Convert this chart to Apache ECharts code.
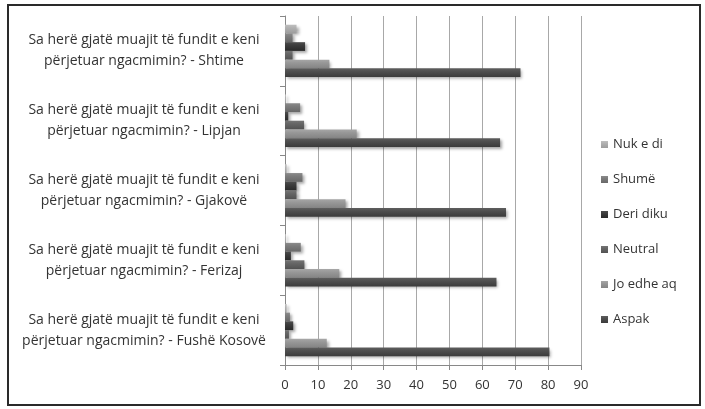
<!DOCTYPE html>
<html style="height: 100%">
<head>
    <meta charset="utf-8">
    <script src="https://cdn.jsdelivr.net/npm/echarts@6/dist/echarts.min.js"></script>
    <title>Ngacmimi</title>
</head>
<body style="height: 100%; margin: 0; background: #fff">
<div id="container" style="width: 705px; height: 409px"></div>
<script type="text/javascript">

    // categories, bottom to top
    let places = ['Fushë Kosovë', 'Ferizaj', 'Gjakovë', 'Lipjan', 'Shtime'];
    let question = 'Sa herë gjatë muajit të fundit e keni\npërjetuar ngacmimin? - ';

    let aspak = [80.4, 64.3, 67.2, 65.4, 71.6];
    let joEdheAq = [12.7, 16.5, 18.4, 21.8, 13.5];
    let neutral = [1.2, 5.9, 3.5, 5.8, 2.3];
    let deriDiku = [2.5, 1.8, 3.5, 1.0, 6.1];
    let shume = [1.5, 4.8, 5.3, 4.6, 2.3];
    let nukEDi = [0.5, 0.3, 0.5, 0.3, 3.5];

    // first series is drawn at the top of each group in echarts
    let seriesNames = ['Nuk e di', 'Shumë', 'Deri diku', 'Neutral', 'Jo edhe aq', 'Aspak'];
    let seriesData = [nukEDi, shume, deriDiku, neutral, joEdheAq, aspak];
    let baseColors = ['#a6a6a6', '#727272', '#333333', '#5c5c5c', '#8e8e8e', '#454545'];

    function shade(hex, amt) {
        let n = parseInt(hex.slice(1), 16);
        let r = Math.min(255, Math.max(0, (n >> 16) + amt));
        let g = Math.min(255, Math.max(0, ((n >> 8) & 255) + amt));
        let b = Math.min(255, Math.max(0, (n & 255) + amt));
        return 'rgb(' + r + ',' + g + ',' + b + ')';
    }

    let series = seriesNames.map(function (name, i) {
        return {
            name: name,
            type: 'bar',
            data: seriesData[i],
            barGap: '0%',
            barCategoryGap: '25%',
            itemStyle: {
                color: new echarts.graphic.LinearGradient(0, 0, 0, 1, [
                    {offset: 0, color: shade(baseColors[i], 25)},
                    {offset: 0.35, color: shade(baseColors[i], 10)},
                    {offset: 1, color: shade(baseColors[i], -10)}
                ]),
                shadowColor: 'rgba(0,0,0,0.35)',
                shadowBlur: 3,
                shadowOffsetX: 2,
                shadowOffsetY: 2
            }
        };
    });

    let chart = echarts.init(document.getElementById('container'));
    chart.setOption({
        animation: false,
        textStyle: {fontFamily: 'Open Sans'},
        grid: {left: 285, right: 124, top: 16, bottom: 44, containLabel: false},
        legend: {
            orient: 'vertical',
            left: 596,
            top: 133,
            itemWidth: 7,
            itemHeight: 7,
            itemGap: 22,
            icon: 'rect',
            data: seriesNames,
            textStyle: {fontSize: 13, color: '#333', fontFamily: 'Open Sans'}
        },
        xAxis: {
            type: 'value',
            min: 0,
            max: 90,
            interval: 10,
            axisLine: {show: true, lineStyle: {color: '#888'}},
            axisTick: {show: true, length: 5, lineStyle: {color: '#888'}},
            axisLabel: {color: '#333', fontSize: 13, margin: 14},
            splitLine: {show: true, lineStyle: {color: '#a8a8a8'}}
        },
        yAxis: {
            type: 'category',
            data: places.map(p => question + p),
            axisLine: {show: true, lineStyle: {color: '#888'}},
            axisTick: {show: true, length: 5, lineStyle: {color: '#888'}},
            axisLabel: {
                color: '#333',
                fontSize: 14,
                align: 'center',
                margin: 141,
                lineHeight: 21
            }
        },
        graphic: [{
            type: 'rect',
            shape: {x: 8, y: 5, width: 692, height: 400},
            style: {fill: 'none', stroke: '#2a2a2a', lineWidth: 2},
            silent: true
        }],
        series: series
    });

</script>
</body>
</html>
